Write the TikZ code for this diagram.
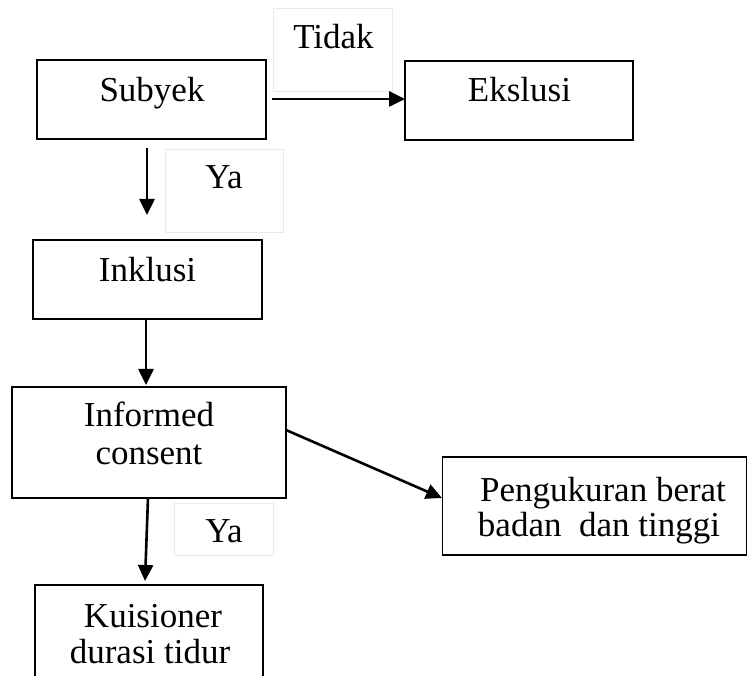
\documentclass[tikz,border=0pt]{standalone}
\usepackage{fontspec}
\setmainfont{Liberation Serif}
\usetikzlibrary{arrows.meta}
\definecolor{lblborder}{HTML}{ECEBE3}
\begin{document}
\begin{tikzpicture}[x=1pt,y=-1pt,
  box/.style={draw=black, line width=1.6pt, rectangle, inner sep=0pt},
  lblbox/.style={draw=lblborder, line width=0.9pt, rectangle, inner sep=0pt},
  txt/.style={anchor=base, inner sep=0pt, font=\fontsize{35}{37}\selectfont, align=center},
  arr/.style={line width=2.6pt, -{Triangle[length=16pt,width=15pt]}}]
\useasboundingbox (0,0) rectangle (748,676);
\fill[white] (0,0) rectangle (748,676);
% boxes
\node[box, minimum width=229pt, minimum height=79pt] (subyek) at (151.5,99.5) {};
\node[box, minimum width=228pt, minimum height=79pt] (ekslusi) at (519,100.5) {};
\node[lblbox, minimum width=119pt, minimum height=83pt] (tidakbox) at (332.5,49.5) {};
\node[lblbox, minimum width=118pt, minimum height=83pt] (ya1box) at (224,190.5) {};
\node[box, minimum width=229pt, minimum height=79pt] (inklusi) at (147.5,279.5) {};
\node[box, minimum width=274pt, minimum height=111pt] (informed) at (149,442.5) {};
\node[box, minimum width=304pt, minimum height=98pt] (pengukuran) at (594.5,506) {};
\node[lblbox, minimum width=99pt, minimum height=52pt] (ya2box) at (223.5,529) {};
\node[box, minimum width=228pt, minimum height=120pt] (kuisioner) at (149,645) {};
% texts
\node[txt] (tSubyek) at (152,102) {Subyek};
\node[txt] (tEkslusi) at (519.5,102) {Ekslusi};
\node[txt] (tTidak) at (333.5,49) {Tidak};
\node[txt] (tYa1) at (224,189) {Ya};
\node[txt] (tInklusi) at (147.5,282) {Inklusi};
\node[txt] (tInformed) at (149,427) {Informed};
\node[txt] (tConsent) at (149,465) {consent};
\node[txt] (tPeng1) at (603,502) {Pengukuran berat};
\node[txt] (tPeng2) at (599,537) {badan\ \ dan tinggi};
\node[txt] (tYa2) at (224,543) {Ya};
\node[txt] (tKuis1) at (153,627) {Kuisioner};
\node[txt] (tKuis2) at (150,663) {durasi tidur};
% connector endpoints
\coordinate (a1s) at (272,99);
\coordinate (a1e) at (405,99);
\coordinate (a2s) at (147,148);
\coordinate (a2e) at (147,215);
\coordinate (a3s) at (146,319);
\coordinate (a3e) at (146,385);
\coordinate (a4s) at (286,430);
\coordinate (a4e) at (442,498);
\coordinate (a5s) at (148,498);
\coordinate (a5e) at (145,581);
% arrows
\draw[arr] (a1s) -- (a1e);
\draw[arr] (a2s) -- (a2e);
\draw[arr] (a3s) -- (a3e);
\draw[arr] (a4s) -- (a4e);
\draw[arr] (a5s) -- (a5e);
\end{tikzpicture}
\end{document}
